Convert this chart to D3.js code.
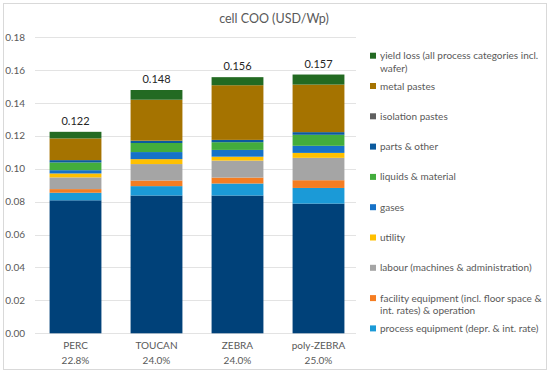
<!DOCTYPE html>
<html>
<head>
<meta charset="utf-8">
<script src="https://cdn.jsdelivr.net/npm/d3@7"></script>
<style>
  body { margin: 0; background: #fff; }
  text { font-family: Lato, "Liberation Sans", sans-serif; }
</style>
</head>
<body>
<div id="chart"></div>
<script>
// Categories
const cellNames = ['PERC', 'TOUCAN', 'ZEBRA', 'poly-ZEBRA'];
const efficiencies = ['22.8%', '24.0%', '24.0%', '25.0%'];

// Cost components (USD/Wp), bottom to top
const wafer = [0.0808, 0.0837, 0.0837, 0.0788];
const processEquipment = [0.0046, 0.0057, 0.0073, 0.0095];
const facilityEquipment = [0.0022, 0.0034, 0.0036, 0.0047];
const labour = [0.0071, 0.0100, 0.0103, 0.0136];
const utility = [0.0024, 0.0030, 0.0024, 0.0030];
const gases = [0.0020, 0.0043, 0.0041, 0.0043];
const liquids = [0.0047, 0.0055, 0.0047, 0.0067];
const parts = [0.0014, 0.0014, 0.0014, 0.0016];
const isolationPastes = [0, 0, 0, 0];
const metalPastes = [0.0132, 0.0249, 0.0332, 0.0289];
const yieldLoss = [0.0040, 0.0059, 0.0049, 0.0061];

const yTicks = [0, 0.02, 0.04, 0.06, 0.08, 0.10, 0.12, 0.14, 0.16, 0.18];

const series = [
  { key: 'wafer', values: wafer, color: '#004179', legend: null },
  { key: 'process', values: processEquipment, color: '#1b9ad7', legend: ['process equipment (depr. & int. rate)'] },
  { key: 'facility', values: facilityEquipment, color: '#f57d22', legend: ['facility equipment (incl. floor space &', 'int. rates) & operation'] },
  { key: 'labour', values: labour, color: '#a5a5a5', legend: ['labour (machines & administration)'] },
  { key: 'utility', values: utility, color: '#ffc000', legend: ['utility'] },
  { key: 'gases', values: gases, color: '#1672c8', legend: ['gases'] },
  { key: 'liquids', values: liquids, color: '#43ad3c', legend: ['liquids & material'] },
  { key: 'parts', values: parts, color: '#0b5a9e', legend: ['parts & other'] },
  { key: 'isolation', values: isolationPastes, color: '#5f5f5f', legend: ['isolation pastes'] },
  { key: 'metal', values: metalPastes, color: '#a57300', legend: ['metal pastes'] },
  { key: 'yield', values: yieldLoss, color: '#236a22', legend: ['yield loss (all process categories incl.', 'wafer)'] }
];

// Width and height
const w = 550;
const h = 374;

// Build table for stacking
const table = cellNames.map(function (name, i) {
  const row = { name: name, eff: efficiencies[i] };
  series.forEach(function (s) { row[s.key] = s.values[i]; });
  return row;
});

const stack = d3.stack().keys(series.map(function (s) { return s.key; }));
const layers = stack(table);

// Scales
const xScale = d3.scaleBand()
  .domain(cellNames)
  .range([35, 359])
  .paddingInner(0.36)
  .paddingOuter(0.18);

const yScale = d3.scaleLinear()
  .domain([0, 0.18])
  .range([333.3, 37]);

const svg = d3.select('#chart')
  .append('svg')
  .attr('width', w)
  .attr('height', h);

// Chart border
svg.append('rect')
  .attr('x', 3.5).attr('y', 3.5)
  .attr('width', 543).attr('height', 366)
  .attr('fill', '#fff')
  .attr('stroke', '#d9d9d9')
  .attr('stroke-width', 1);

// Title
svg.append('text')
  .attr('x', 274)
  .attr('y', 23)
  .attr('text-anchor', 'middle')
  .attr('font-size', 12.5)
  .attr('fill', '#595959')
  .text('cell COO (USD/Wp)');

// Gridlines
svg.append('g')
  .selectAll('line')
  .data(yTicks)
  .enter()
  .append('line')
  .attr('x1', 35)
  .attr('x2', 356)
  .attr('y1', function (d) { return Math.round(yScale(d)) + 0.5; })
  .attr('y2', function (d) { return Math.round(yScale(d)) + 0.5; })
  .attr('stroke', '#e3e3e3')
  .attr('stroke-width', 1);

// Y axis
const yAxis = d3.axisLeft(yScale)
  .tickValues(yTicks)
  .tickFormat(d3.format('.2f'))
  .tickSize(0)
  .tickPadding(0);

svg.append('g')
  .attr('class', 'y axis')
  .attr('transform', 'translate(25,0)')
  .call(yAxis)
  .call(function (g) { g.select('.domain').remove(); })
  .selectAll('text')
  .attr('font-size', 10)
  .attr('fill', '#595959')
  .style('font-family', 'Lato, "Liberation Sans", sans-serif');

// Bars
svg.append('g')
  .selectAll('g')
  .data(layers)
  .enter()
  .append('g')
  .attr('fill', function (d, i) { return series[i].color; })
  .selectAll('rect')
  .data(function (d) { return d; })
  .enter()
  .append('rect')
  .attr('x', function (d) { return xScale(d.data.name); })
  .attr('y', function (d) { return yScale(d[1]); })
  .attr('width', xScale.bandwidth())
  .attr('height', function (d) { return yScale(d[0]) - yScale(d[1]); });

// Total labels
svg.append('g')
  .selectAll('text')
  .data(table)
  .enter()
  .append('text')
  .attr('x', function (d) { return xScale(d.name) + xScale.bandwidth() / 2; })
  .attr('y', function (d) {
    const total = d3.sum(series, function (s) { return d[s.key]; });
    return yScale(total) - 7;
  })
  .attr('text-anchor', 'middle')
  .attr('font-size', 11)
  .attr('fill', '#262626')
  .text(function (d) {
    return d3.format('.3f')(d3.sum(series, function (s) { return d[s.key]; }));
  });

// X axis labels
const xLabels = svg.append('g')
  .selectAll('text')
  .data(table)
  .enter()
  .append('text')
  .attr('text-anchor', 'middle')
  .attr('font-size', 10)
  .attr('fill', '#595959');

xLabels.append('tspan')
  .attr('x', function (d) { return xScale(d.name) + xScale.bandwidth() / 2; })
  .attr('y', 349)
  .text(function (d) { return d.name; });

xLabels.append('tspan')
  .attr('x', function (d) { return xScale(d.name) + xScale.bandwidth() / 2; })
  .attr('y', 364)
  .text(function (d) { return d.eff; });

// Legend (top to bottom, wafer not shown)
const legendItems = series.filter(function (s) { return s.legend; }).reverse();
const legend = svg.append('g')
  .selectAll('g')
  .data(legendItems)
  .enter()
  .append('g')
  .attr('transform', function (d, i) { return 'translate(370,' + (55.7 + i * 30.3) + ')'; });

legend.append('rect')
  .attr('x', 0)
  .attr('y', -3)
  .attr('width', 6)
  .attr('height', 6)
  .attr('fill', function (d) { return d.color; });

legend.append('text')
  .attr('font-size', 10)
  .attr('fill', '#595959')
  .selectAll('tspan')
  .data(function (d) { return d.legend; })
  .enter()
  .append('tspan')
  .attr('x', 10)
  .attr('y', function (d, i) { return 3.5 + i * 12.6; })
  .text(function (d) { return d; });
</script>
</body>
</html>
